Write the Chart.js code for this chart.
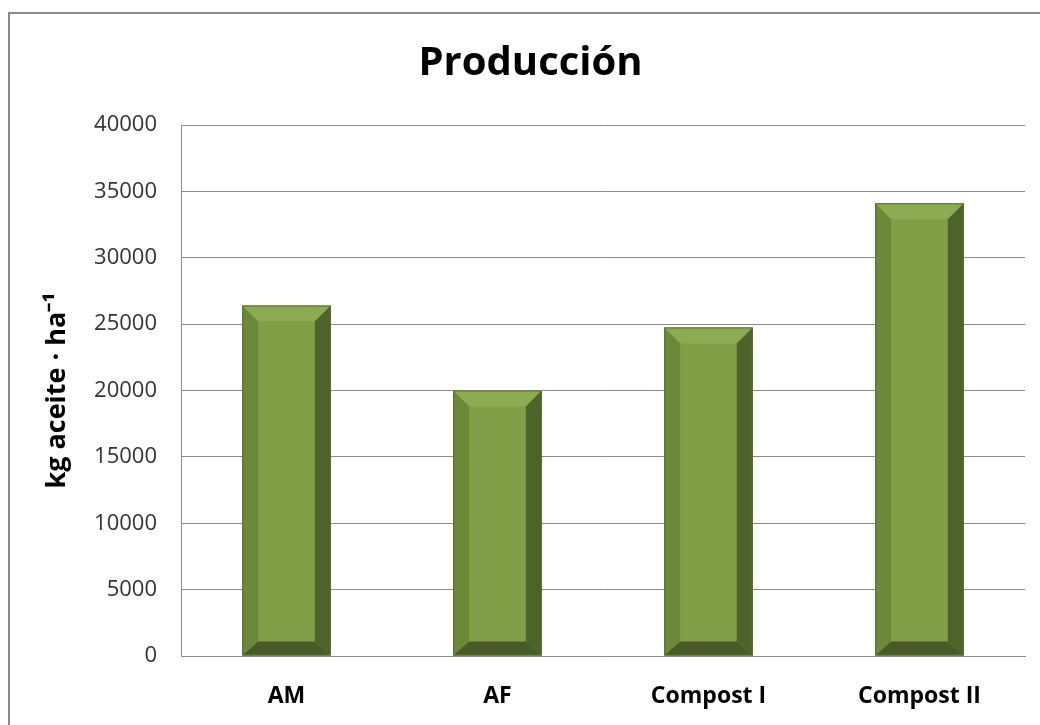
<!DOCTYPE html>
<html>
<head>
<meta charset="utf-8">
<script src="https://cdn.jsdelivr.net/npm/chart.js@4/dist/chart.umd.min.js"></script>
<style>
  html, body { margin: 0; padding: 0; background: #ffffff; }
  #wrap { width: 1040px; height: 725px; position: relative; }
</style>
</head>
<body>
<div id="wrap"><canvas id="c" width="1040" height="725"></canvas></div>
<script>
// Oil production per treatment (kg of oil per hectare)
const categories = ['AM', 'AF', 'Compost I', 'Compost II'];
const produccion = [26400, 20000, 24750, 34100];
const yTicks = [0, 5000, 10000, 15000, 20000, 25000, 30000, 35000, 40000];

const FONT = "'Open Sans', 'Liberation Sans', sans-serif";

// Bevelled bar faces: top, left, right, bottom and front
const bevel = {
  face: '#809f47',
  top: '#8dab53',
  left: '#6c8839',
  right: '#4e6329',
  bottom: '#485a25',
  edge: '#5a7030'
};

// Outer chart frame
const framePlugin = {
  id: 'frame',
  beforeDraw(chart) {
    const ctx = chart.ctx;
    ctx.save();
    ctx.strokeStyle = '#8a8a8a';
    ctx.lineWidth = 2;
    ctx.beginPath();
    ctx.moveTo(9, chart.height + 5);
    ctx.lineTo(9, 13);
    ctx.lineTo(chart.width + 5, 13);
    ctx.stroke();
    ctx.restore();
  }
};

// Draws the bevel facets on top of each bar, from the bar element geometry
const bevelPlugin = {
  id: 'bevel',
  afterDatasetsDraw(chart) {
    const ctx = chart.ctx;
    const meta = chart.getDatasetMeta(0);
    meta.data.forEach(bar => {
      const w = bar.width;
      const l = bar.x - w / 2, r = bar.x + w / 2;
      const t = bar.y, bt = bar.base;
      const b = Math.min(16, w / 3, (bt - t) / 3);
      const bb = Math.min(14, w / 3, (bt - t) / 3);
      const poly = (pts, color) => {
        ctx.beginPath();
        ctx.moveTo(pts[0][0], pts[0][1]);
        for (let i = 1; i < pts.length; i++) ctx.lineTo(pts[i][0], pts[i][1]);
        ctx.closePath();
        ctx.fillStyle = color;
        ctx.fill();
      };
      ctx.save();
      poly([[l, t], [r, t], [r - b, t + b], [l + b, t + b]], bevel.top);
      poly([[l, t], [l + b, t + b], [l + b, bt - bb], [l, bt]], bevel.left);
      poly([[r, t], [r, bt], [r - b, bt - bb], [r - b, t + b]], bevel.right);
      poly([[l, bt], [l + b, bt - bb], [r - b, bt - bb], [r, bt]], bevel.bottom);
      ctx.strokeStyle = bevel.edge;
      ctx.lineWidth = 1;
      ctx.strokeRect(l + 0.5, t + 0.5, w - 1, bt - t - 1);
      ctx.restore();
    });
  }
};

new Chart(document.getElementById('c'), {
  type: 'bar',
  data: {
    labels: categories,
    datasets: [{
      label: 'Producción',
      data: produccion,
      backgroundColor: bevel.face,
      borderWidth: 0,
      categoryPercentage: 1,
      barPercentage: 0.42
    }]
  },
  options: {
    responsive: false,
    animation: false,
    devicePixelRatio: 1,
    layout: { padding: { left: 36, right: 15, top: 0, bottom: 0 } },
    plugins: {
      legend: { display: false },
      tooltip: { enabled: false },
      title: {
        display: true,
        text: 'Producción',
        color: '#000000',
        font: { family: FONT, size: 40, weight: 'bold' },
        padding: { top: 40, bottom: 37 }
      }
    },
    scales: {
      x: {
        grid: { display: false, drawTicks: false },
        border: { display: true, color: '#8c8c8c', width: 1 },
        ticks: {
          color: '#000000',
          padding: 27,
          maxRotation: 0,
          font: { family: FONT, size: 23, weight: 'bold' }
        },
        afterFit(scale) { scale.height = 69; }
      },
      y: {
        min: 0,
        max: 40000,
        afterBuildTicks(scale) { scale.ticks = yTicks.map(v => ({ value: v })); },
        grid: { color: '#8c8c8c', lineWidth: 1, drawTicks: false },
        border: { display: true, color: '#8c8c8c', width: 1 },
        ticks: {
          color: '#333333',
          padding: 24,
          font: { family: FONT, size: 22 },
          callback: v => String(v)
        },
        title: {
          display: true,
          text: 'kg aceite · ha⁻¹',
          color: '#000000',
          font: { family: FONT, size: 27, weight: 'bold' },
          padding: { top: 5, bottom: 0 }
        },
        afterFit(scale) { scale.width = 145; }
      }
    }
  },
  plugins: [framePlugin, bevelPlugin]
});
</script>
</body>
</html>
